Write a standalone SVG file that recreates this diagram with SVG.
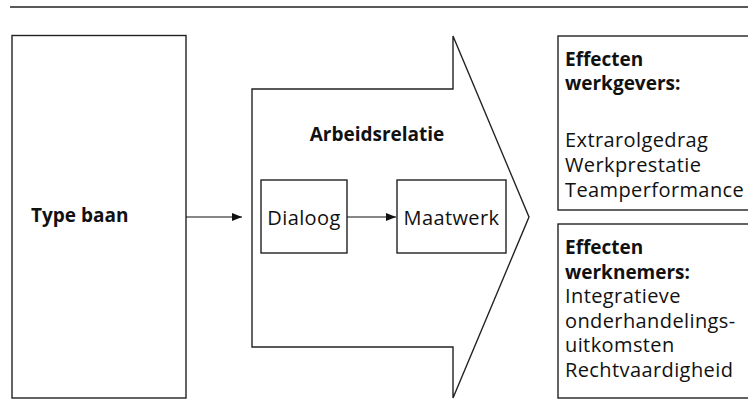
<svg xmlns="http://www.w3.org/2000/svg" width="748" height="419" viewBox="0 0 748 419">
<defs>
<marker id="ah" markerWidth="10" markerHeight="8" refX="10" refY="4" orient="auto" markerUnits="userSpaceOnUse">
<path d="M0,0 L10,4 L0,8 Z" fill="#111"/>
</marker>
<style>
.box{fill:#fff;stroke:#222;stroke-width:1.4}
.con{stroke:#111;stroke-width:1.2;fill:none}
.t{font-family:"Open Sans","Liberation Sans",sans-serif;fill:#111;font-size:20px;letter-spacing:0.4px}
.b{font-family:"Open Sans","Liberation Sans",sans-serif;fill:#111;font-size:19px;font-weight:bold}
</style>
</defs>
<rect width="748" height="419" fill="#fff"/>
<line x1="10" y1="7" x2="748" y2="7" stroke="#222" stroke-width="1.5"/>
<g id="type-baan">
<rect class="box" x="12" y="35.5" width="174" height="362.5"/>
<text class="b" x="31" y="222">Type baan</text>
</g>
<g id="arbeidsrelatie">
<polygon class="box" points="252,89 453,89 453,36 529,217 453,398 453,347 252,347"/>
<text class="b" x="377" y="141" text-anchor="middle">Arbeidsrelatie</text>
</g>
<g id="dialoog">
<rect class="box" x="261" y="180" width="86" height="73"/>
<text class="t" x="304" y="225" text-anchor="middle">Dialoog</text>
</g>
<g id="maatwerk">
<rect class="box" x="397" y="180" width="109" height="73"/>
<text class="t" x="451.5" y="225" text-anchor="middle">Maatwerk</text>
</g>
<g id="effecten-werkgevers">
<rect class="box" x="558" y="36" width="200" height="174"/>
<text class="b" x="565" y="65.5">Effecten</text>
<text class="b" x="565" y="90">werkgevers:</text>
<text class="t" x="565" y="147">Extrarolgedrag</text>
<text class="t" x="565" y="172">Werkprestatie</text>
<text class="t" x="565" y="197">Teamperformance</text>
</g>
<g id="effecten-werknemers">
<rect class="box" x="558" y="224" width="200" height="174"/>
<text class="b" x="565" y="254">Effecten</text>
<text class="b" x="565" y="278.5">werknemers:</text>
<text class="t" x="565" y="303">Integratieve</text>
<text class="t" x="565" y="327.5">onderhandelings-</text>
<text class="t" x="565" y="352">uitkomsten</text>
<text class="t" x="565" y="376.5">Rechtvaardigheid</text>
</g>
<g id="connectors">
<line class="con" x1="186" y1="217" x2="242" y2="217" marker-end="url(#ah)"/>
<line class="con" x1="347" y1="217" x2="396" y2="217" marker-end="url(#ah)"/>
</g>
</svg>
